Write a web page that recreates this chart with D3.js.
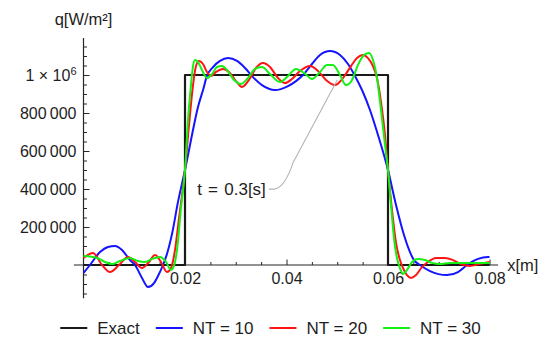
<!DOCTYPE html>
<html>
<head>
<meta charset="utf-8">
<script src="https://cdn.jsdelivr.net/npm/d3@7"></script>
<style>
  body { margin: 0; background: #fff; }
  svg { display: block; font-family: "Liberation Sans", Arial, sans-serif; }
</style>
</head>
<body>
<svg id="chart" width="541" height="340"></svg>
<script>
// exact step profile
const exactX = [0, 0.02, 0.02, 0.06, 0.06, 0.08];
const exactY = [0, 0, 1000000, 1000000, 0, 0];

// NT = 10
const nt10X = [0, 0.00128, 0.00325, 0.00483, 0.00621, 0.00759, 0.00916, 0.01015, 0.01153, 0.01271,
  0.01389, 0.01468, 0.01567, 0.01645, 0.01744, 0.01862, 0.02, 0.02118, 0.02256, 0.02355,
  0.02433, 0.02552, 0.0269, 0.02847, 0.03025, 0.03182, 0.0334, 0.03517, 0.03773, 0.0403,
  0.04187, 0.04325, 0.04502, 0.0466, 0.04857, 0.05054, 0.05212, 0.0535, 0.05488, 0.05645,
  0.05803, 0.06, 0.06158, 0.06315, 0.06512, 0.06631, 0.06828, 0.07163, 0.07379, 0.07557,
  0.07773, 0.0797, 0.08];
const nt10Y = [-42000, 0, 68000, 95000, 100000, 79000, 26000, 0, -68000, -116000,
  -95000, -58000, 0, 58000, 163000, 332000, 500000, 658000, 832000, 921000,
  995000, 1042000, 1074000, 1089000, 1074000, 1037000, 989000, 947000, 921000, 942000,
  968000, 1000000, 1058000, 1105000, 1126000, 1105000, 1058000, 995000, 921000, 816000,
  684000, 500000, 316000, 158000, 26000, 0, -32000, -53000, -37000, 0,
  32000, 42000, 42000];

// NT = 20
const nt20X = [0, 0.00187, 0.00365, 0.00522, 0.007, 0.00877, 0.01015, 0.01153, 0.01291, 0.01409,
  0.01527, 0.01645, 0.01724, 0.01803, 0.01882, 0.02, 0.02079, 0.02158, 0.02217, 0.02276,
  0.02355, 0.02433, 0.02512, 0.02611, 0.02749, 0.02867, 0.03005, 0.03123, 0.03261, 0.03399,
  0.03537, 0.03675, 0.03833, 0.0397, 0.04108, 0.04266, 0.04463, 0.04621, 0.04778, 0.04956,
  0.05113, 0.05271, 0.05389, 0.05507, 0.05606, 0.05704, 0.05783, 0.05862, 0.05941, 0.06,
  0.06079, 0.06158, 0.06236, 0.06296, 0.06374, 0.06453, 0.06552, 0.0667, 0.06788, 0.06946,
  0.07123, 0.07281, 0.07438, 0.07616, 0.07793, 0.08];
const nt20Y = [37000, 63000, 0, -37000, 0, 42000, 16000, -16000, 16000, 53000,
  16000, -37000, -16000, 79000, 247000, 500000, 737000, 947000, 1047000, 1074000,
  1058000, 1016000, 995000, 1016000, 1032000, 1016000, 968000, 937000, 974000, 1037000,
  1063000, 1042000, 984000, 958000, 979000, 1021000, 1047000, 1021000, 974000, 947000,
  984000, 1047000, 1089000, 1105000, 1089000, 1047000, 984000, 858000, 684000, 500000,
  289000, 116000, 26000, -16000, -53000, -68000, -53000, -11000, 16000, 37000,
  37000, 26000, 5000, -5000, 5000, 16000];

// NT = 30
const nt30X = [0, 0.00266, 0.00424, 0.00562, 0.00719, 0.00916, 0.01074, 0.01212, 0.0135, 0.01507,
  0.01626, 0.01724, 0.01783, 0.01842, 0.01921, 0.02, 0.02059, 0.02118, 0.02158, 0.02197,
  0.02256, 0.02335, 0.02433, 0.02532, 0.02631, 0.02729, 0.02828, 0.02966, 0.03103, 0.03241,
  0.03379, 0.03517, 0.03675, 0.03872, 0.0403, 0.04187, 0.04345, 0.04502, 0.0466, 0.04798,
  0.04916, 0.05054, 0.05172, 0.05291, 0.05409, 0.05527, 0.05626, 0.05704, 0.05783, 0.05862,
  0.05941, 0.06, 0.06059, 0.06118, 0.06177, 0.06236, 0.06296, 0.06374, 0.06473, 0.06591,
  0.06729, 0.06867, 0.07025, 0.07222, 0.07419, 0.07616, 0.07813, 0.08];
const nt30Y = [47000, 37000, 16000, 5000, 21000, 37000, 21000, 16000, 32000, 42000,
  16000, -26000, -5000, 79000, 300000, 500000, 763000, 947000, 1047000, 1079000,
  1068000, 1026000, 984000, 1005000, 1042000, 1047000, 1026000, 974000, 953000, 984000,
  1032000, 1042000, 1005000, 963000, 995000, 1032000, 1011000, 979000, 1016000, 1053000,
  1053000, 1000000, 947000, 974000, 1053000, 1105000, 1116000, 1079000, 984000, 816000,
  632000, 500000, 316000, 142000, 37000, -16000, -47000, -26000, 16000, 32000,
  26000, 11000, 5000, 11000, 11000, 11000, 11000, 11000];

const seriesNames = ['Exact', 'NT = 10', 'NT = 20', 'NT = 30'];
const seriesColors = ['#1a1a1a', '#1414ff', '#ff1414', '#14f014'];

const xTickValues = [0.02, 0.04, 0.06, 0.08];
const xTickLabels = ['0.02', '0.04', '0.06', '0.08'];
const yTickValues = [200000, 400000, 600000, 800000, 1000000];
const yTickLabels = ['200\u2009000', '400\u2009000', '600\u2009000', '800\u2009000', '1 \u00d7 10^6'];

const annotationText = 't = 0.3[s]';
const annotationAt = [0.0224, 368000];
const annotationTarget = [0.05, 974000];

const width = 541, height = 340;
const svg = d3.select('#chart');

const x = d3.scaleLinear().domain([0, 0.08]).range([83.5, 489.5]);
const y = d3.scaleLinear().domain([0, 1000000]).range([265, 75]);
const axisColor = '#262626';
const textColor = '#1e1e1e';

// axis lines
svg.append('line')
  .attr('x1', x(-0.0019)).attr('x2', x(0.0817))
  .attr('y1', y(0)).attr('y2', y(0))
  .attr('stroke', axisColor).attr('stroke-width', 1.2);
svg.append('line')
  .attr('x1', x(0)).attr('x2', x(0))
  .attr('y1', y(1195000)).attr('y2', y(-175000))
  .attr('stroke', axisColor).attr('stroke-width', 1.2);

// x axis ticks
const xMinor = d3.range(1, 17).map(i => i * 0.005).filter(v => Math.abs(v / 0.02 - Math.round(v / 0.02)) > 1e-6);
svg.append('g')
  .attr('transform', `translate(0,${y(0)})`)
  .call(d3.axisBottom(x).tickValues(xMinor).tickSize(-3).tickFormat(''))
  .call(g => g.select('.domain').remove())
  .call(g => g.selectAll('line').attr('stroke', axisColor));

svg.append('g')
  .attr('transform', `translate(0,${y(0)})`)
  .call(d3.axisBottom(x).tickValues(xTickValues).tickSize(-5.5).tickPadding(8)
    .tickFormat((d, i) => xTickLabels[i]))
  .call(g => g.select('.domain').remove())
  .call(g => g.selectAll('line').attr('stroke', axisColor))
  .call(g => g.selectAll('text').attr('fill', textColor).style('font-size', '16px')
    .style('font-family', '"Liberation Sans", Arial, sans-serif'));

// y axis ticks
const yMinor = d3.range(-3, 24).map(i => i * 50000).filter(v => v % 200000 !== 0);
svg.append('g')
  .attr('transform', `translate(${x(0)},0)`)
  .call(d3.axisLeft(y).tickValues(yMinor).tickSize(-3.5).tickFormat(''))
  .call(g => g.select('.domain').remove())
  .call(g => g.selectAll('line').attr('stroke', axisColor));

const yAxisG = svg.append('g')
  .attr('transform', `translate(${x(0)},0)`)
  .call(d3.axisLeft(y).tickValues(yTickValues).tickSize(-6).tickPadding(7)
    .tickFormat((d, i) => yTickLabels[i]))
  .call(g => g.select('.domain').remove())
  .call(g => g.selectAll('line').attr('stroke', axisColor))
  .call(g => g.selectAll('text').attr('fill', textColor).style('font-size', '16px')
    .style('font-family', '"Liberation Sans", Arial, sans-serif'));

// the 1 x 10^6 label with a real superscript
yAxisG.selectAll('text').filter(d => d === 1000000).each(function(d) {
  const t = d3.select(this);
  const parts = yTickLabels[yTickValues.indexOf(d)].split('^');
  t.text(null);
  t.append('tspan').text(parts[0]);
  t.append('tspan').attr('dy', '-0.55em').style('font-size', '11px').text(parts[1]);
});

// axis labels
svg.append('text')
  .attr('x', x(0)).attr('y', 25)
  .attr('text-anchor', 'middle')
  .attr('fill', textColor).style('font-size', '16.5px')
  .text('q[W/m\u00b2]');
svg.append('text')
  .attr('x', x(0.0817) + 9).attr('y', y(0) + 5.5)
  .attr('fill', textColor).style('font-size', '16.5px')
  .text('x[m]');

// curves
const line = d3.line()
  .x(d => x(d[0]))
  .y(d => y(d[1]));

const series = [
  { xs: exactX, ys: exactY, curve: d3.curveLinear },
  { xs: nt10X, ys: nt10Y, curve: d3.curveMonotoneX },
  { xs: nt20X, ys: nt20Y, curve: d3.curveMonotoneX },
  { xs: nt30X, ys: nt30Y, curve: d3.curveMonotoneX }
];

series.forEach((s, i) => {
  svg.append('path')
    .datum(s.xs.map((v, j) => [v, s.ys[j]]))
    .attr('fill', 'none')
    .attr('stroke', seriesColors[i])
    .attr('stroke-width', i === 0 ? 2.2 : 2)
    .attr('stroke-linejoin', 'round')
    .attr('d', line.curve(s.curve));
});

// annotation with leader
const ann = svg.append('text')
  .attr('x', x(annotationAt[0])).attr('y', y(annotationAt[1]))
  .attr('fill', textColor).style('font-size', '17px')
  .style('word-spacing', '1.5px')
  .text(annotationText);
const bb = ann.node().getBBox();
const sx = bb.x + bb.width + 3, sy = y(annotationAt[1]) - 6;
const tx = x(annotationTarget[0]), ty = y(annotationTarget[1]);
const p = d3.path();
p.moveTo(sx, sy);
p.lineTo(sx + 6, sy);
p.quadraticCurveTo(sx + 16, sy - 2, sx + 24, sy - 26);
p.lineTo(tx, ty);
svg.append('path')
  .attr('d', p.toString())
  .attr('fill', 'none')
  .attr('stroke', '#b4b4b4')
  .attr('stroke-width', 1.1);

// legend
const legend = svg.append('g');
let cursor = 0;
seriesNames.forEach((name, i) => {
  const item = legend.append('g').attr('transform', `translate(${cursor},0)`);
  item.append('line')
    .attr('x1', 0).attr('x2', 27).attr('y1', 0).attr('y2', 0)
    .attr('stroke', seriesColors[i]).attr('stroke-width', 2);
  const t = item.append('text')
    .attr('x', 37).attr('y', 6)
    .attr('fill', textColor).style('font-size', '17px')
    .text(name);
  cursor += 37 + t.node().getComputedTextLength() + 16;
});
const legendWidth = cursor - 16;
legend.attr('transform', `translate(${(width - legendWidth) / 2},328)`);
</script>
</body>
</html>
